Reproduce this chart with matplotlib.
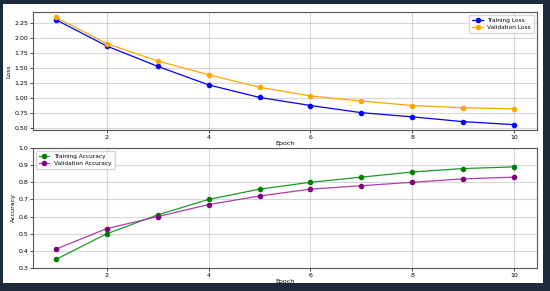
import numpy as np
import matplotlib.pyplot as plt
from matplotlib.patches import Rectangle

epochs = [1, 2, 3, 4, 5, 6, 7, 8, 9, 10]
train_loss = [2.31, 1.87, 1.53, 1.22, 1.01, 0.875, 0.755, 0.685, 0.605, 0.555]
val_loss = [2.35, 1.91, 1.62, 1.39, 1.18, 1.035, 0.95, 0.875, 0.837, 0.82]
train_acc = [0.35, 0.50, 0.61, 0.70, 0.76, 0.80, 0.83, 0.86, 0.88, 0.89]
val_acc = [0.41, 0.53, 0.60, 0.67, 0.72, 0.76, 0.78, 0.80, 0.82, 0.83]

plt.rcParams['font.size'] = 4.5

fig = plt.figure(figsize=(5.5, 2.91), dpi=100, facecolor='#1c2b3c')
# white page inside the dark frame
fig.patches.append(Rectangle((3 / 550, 8 / 291), 540 / 550, 279 / 291,
                             transform=fig.transFigure, facecolor='white',
                             edgecolor='none', zorder=-10))

ax1 = fig.add_axes([33 / 550, 1 - 130 / 291, 504 / 550, 118 / 291])
ax2 = fig.add_axes([33 / 550, 1 - 268 / 291, 504 / 550, 120 / 291])

ax1.plot(epochs, train_loss, color='blue', marker='o', markersize=3, linewidth=0.9,
         label='Training Loss')
ax1.plot(epochs, val_loss, color='orange', marker='o', markersize=3, linewidth=0.9,
         label='Validation Loss')
ax1.set_xlabel('Epoch', labelpad=1)
ax1.set_ylabel('Loss', labelpad=2)
ax1.legend(loc='upper right', fontsize=4.2, handlelength=1.8, borderpad=0.5,
           labelspacing=0.4)
ax1.grid(True, alpha=0.5)

ax2.plot(epochs, train_acc, color='#1a9a2a', marker='o', markersize=3, linewidth=0.9,
         markerfacecolor='green', markeredgecolor='green', label='Training Accuracy')
ax2.plot(epochs, val_acc, color='#b03cb0', marker='o', markersize=3, linewidth=0.9,
         markerfacecolor='purple', markeredgecolor='purple', label='Validation Accuracy')
ax2.set_xlabel('Epoch', labelpad=1)
ax2.set_ylabel('Accuracy', labelpad=2)
ax2.set_ylim(0.3, 1.0)
ax2.legend(loc='upper left', fontsize=4.2, handlelength=1.8, borderpad=0.5,
           labelspacing=0.4)
ax2.grid(True, alpha=0.5)

for ax in (ax1, ax2):
    ax.set_xticks([2, 4, 6, 8, 10])
    ax.tick_params(length=2, width=0.5, pad=1.5)
    for s in ax.spines.values():
        s.set_linewidth(0.8)
        s.set_color('#555555')

fig.savefig('out.png', dpi=100, facecolor=fig.get_facecolor())
